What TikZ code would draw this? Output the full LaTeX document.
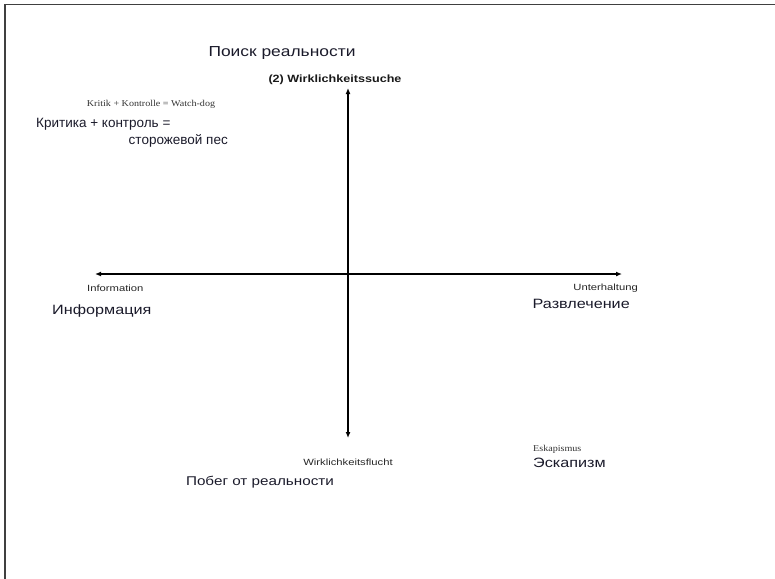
\documentclass[tikz,border=0pt]{standalone}
\usepackage{fontspec}
\setmainfont{Liberation Sans}
\newfontfamily\widesans[FakeStretch=1.2]{Liberation Sans}
\newfontfamily\widesmall[FakeStretch=1.25]{Liberation Sans}
\newfontfamily\wideserif[FakeStretch=1.12]{Liberation Serif}
\usetikzlibrary{arrows.meta}
\definecolor{txt}{HTML}{1A1A2A}
\begin{document}
\begin{tikzpicture}[x=1pt,y=-1pt,
  axis/.style={line width=1.8pt,{Latex[length=6pt,width=5pt]}-{Latex[length=6pt,width=5pt]}},
  big/.style={font=\widesans\fontsize{13.5}{15}\selectfont,text=txt,inner sep=0pt},
  plainbig/.style={font=\fontsize{13.5}{15}\selectfont,text=txt,inner sep=0pt},
  small/.style={font=\widesmall\fontsize{9}{10}\selectfont,text=black!85,inner sep=0pt},
  tiny/.style={font=\wideserif\fontsize{9}{10}\selectfont,text=black!80,inner sep=0pt}]
\useasboundingbox (0,0) rectangle (775,578);
\draw[line width=1.2pt,black!75] (5,580) -- (5,4.5) -- (780,4.5);
\coordinate (T) at (348,88);
\coordinate (B) at (348,438);
\coordinate (L) at (95,274);
\coordinate (R) at (622,274);
\draw[axis] (B) -- (T);
\draw[axis] (L) -- (R);
\node[big,font=\widesans\fontsize{14.5}{16}\selectfont] (poisk) at (282,53) {Поиск реальности};
\node[inner sep=0pt,text=black!90,font=\widesans\bfseries\fontsize{10.5}{12}\selectfont] (wsuche) at (335,80) {(2) Wirklichkeitssuche};
\node[tiny] (kritik) at (151,104) {Kritik + Kontrolle = Watch-dog};
\node[plainbig,anchor=west] (kritru) at (36,124) {Критика + контроль =};
\node[plainbig,anchor=east] (storozh) at (228,141) {сторожевой пес};
\node[small,anchor=west] (info) at (87,288) {Information};
\node[big,anchor=west] (infru) at (52,311) {Информация};
\node[small,anchor=east] (unter) at (638,288) {Unterhaltung};
\node[big,anchor=east] (razvl) at (630,304) {Развлечение};
\node[small] (flucht) at (348,462) {Wirklichkeitsflucht};
\node[big,font=\widesans\fontsize{12.7}{14}\selectfont] (pobeg) at (260,482) {Побег от реальности};
\node[tiny,anchor=west] (eskde) at (533,449) {Eskapismus};
\node[big,anchor=west] (eskru) at (533,463) {Эскапизм};
\end{tikzpicture}
\end{document}
